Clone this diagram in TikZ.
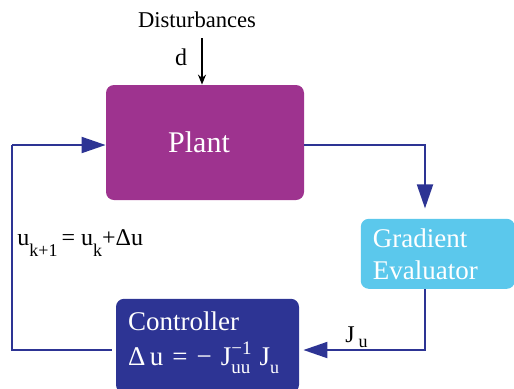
\documentclass[tikz,border=0pt]{standalone}
\usepackage{fontspec}
\setmainfont{Liberation Serif}
\usepackage{tikz}
\usetikzlibrary{arrows.meta, positioning}
\definecolor{plantPurple}{HTML}{9E338F}
\definecolor{gradCyan}{HTML}{5BC8EC}
\definecolor{ctrlBlue}{HTML}{2D3494}

\newcommand{\lowsub}[2][4pt]{\raisebox{-#1}{\fontsize{9}{10}\selectfont #2}}
\newcommand{\supsub}[2]{\raisebox{-4pt}{\fontsize{9.5}{9.8}\selectfont
    \begin{tabular}[b]{@{}l@{}}#1\\#2\end{tabular}}}

\begin{document}
\begin{tikzpicture}[
    box/.style={rectangle, rounded corners=4pt, text=white, inner sep=0pt},
    arrow/.style={-{Triangle[length=12pt,width=8pt]}, line width=1pt, color=ctrlBlue},
    line/.style={line width=1pt, color=ctrlBlue},
    label/.style={font=\fontsize{12}{14}\selectfont, inner sep=0pt}
]
\useasboundingbox (0pt,0pt) rectangle (257pt,-194pt);

% Plant
\node[box, fill=plantPurple, minimum width=99pt, minimum height=57.5pt,
      font=\fontsize{15}{18}\selectfont] (plant) at (102.5pt,-71.25pt) {\hspace*{-6pt}Plant};

% Gradient Evaluator
\node[box, fill=gradCyan, minimum width=77pt, minimum height=35pt, align=left,
      text width=65pt, inner xsep=6pt, font=\fontsize{13.5}{16}\selectfont,
      below right=9pt and 28pt of plant.south east] (grad) {Gradient\\Evaluator};

% Controller
\node[box, fill=ctrlBlue, minimum width=91.5pt, minimum height=47pt, align=left,
      text width=79.5pt, inner xsep=6pt, font=\fontsize{13.5}{17.5}\selectfont,
      below right=49pt and 5pt of plant.south west] (ctrl)
      {Controller\\Δ\,u = − J\supsub{−1}{uu}\hspace{4pt}J\lowsub{u}};

% Disturbance input
\node[label, font=\fontsize{11.3}{13}\selectfont] (dist) at (98.5pt,-10pt) {Disturbances};
\coordinate (dtop) at (101pt,-19pt);
\node[label, anchor=base] (d) at (90.5pt,-32.5pt) {d};
\draw[-{Stealth[length=5pt,width=4pt]}, line width=0.8pt] (dtop) -- (dtop |- plant.north);

% Loop
\coordinate (pout) at (plant.east |- 0,-72.5pt);
\coordinate (gx) at (212.5pt,0pt);
\draw[arrow, shorten >=5pt] (pout) -- (gx |- pout) -- (gx |- grad.north);
\coordinate (cy) at (0pt,-175pt);
\draw[arrow, shorten >=2pt] (gx |- grad.south) -- (gx |- cy) -- (ctrl.east |- cy);
\coordinate (lx) at (6pt,0pt);
\draw[line, shorten <=2pt] (ctrl.west |- cy) -- (lx |- cy) -- (lx |- pout);
\draw[arrow] (lx |- pout) -- (plant.west |- pout);

% Labels
\node[label, anchor=base west] (update) at (8.5pt,-122.5pt)
      {u\lowsub[5.5pt]{k+1}\,= u\lowsub[5.5pt]{k}+Δu};
\node[label, anchor=base west] (ju) at (172.5pt,-171pt) {J\,\lowsub[2.5pt]{u}};

\end{tikzpicture}
\end{document}
